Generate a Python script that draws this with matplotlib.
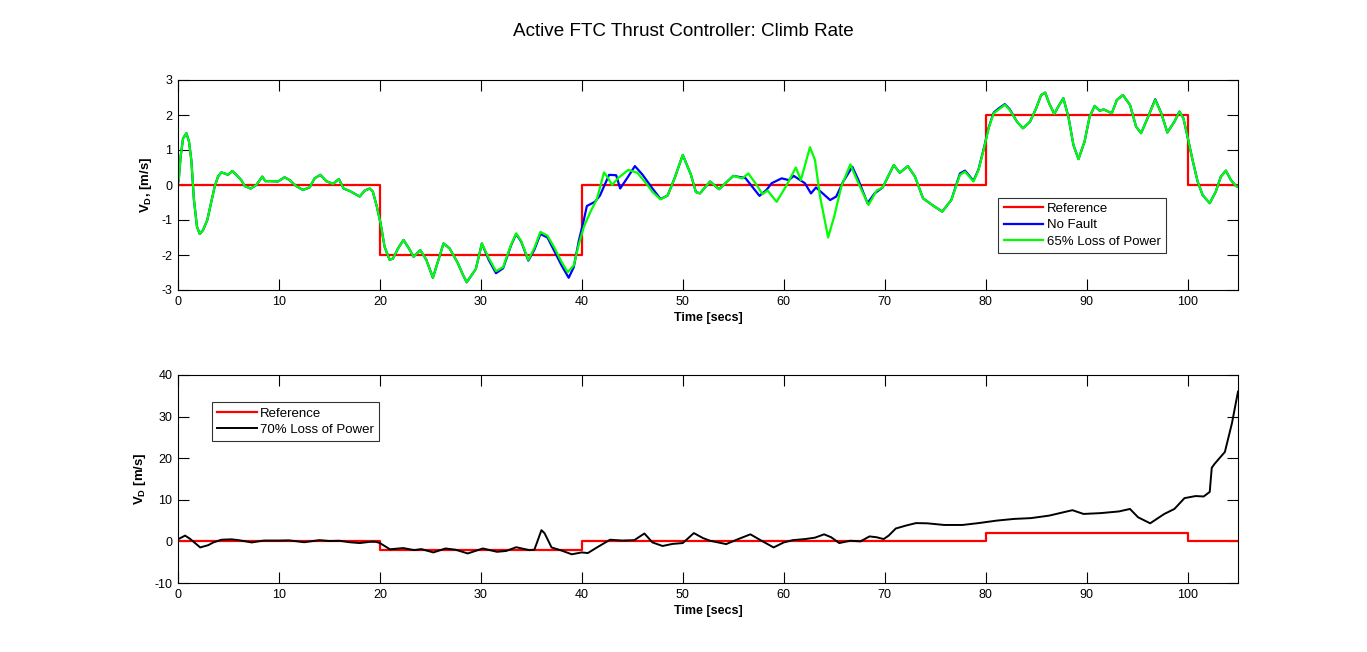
import matplotlib
matplotlib.use("Agg")
import matplotlib.pyplot as plt

plt.rcParams['font.family'] = ['Liberation Sans', 'DejaVu Sans']
plt.rcParams['mathtext.fontset'] = 'custom'
plt.rcParams['mathtext.rm'] = 'Liberation Sans'
plt.rcParams['mathtext.bf'] = 'Liberation Sans:bold'
plt.rcParams['axes.unicode_minus'] = False

# ---------------- data ----------------
ref_times = [0, 20, 40, 80, 100, 105]
ref_vals = [0, -2, 0, 2, 0, 0]

# 65% loss of power (time [s], climb rate [m/s])
green_pts = [
    (0.0, 0.05), (0.07, 0.14), (0.26, 0.81), (0.5, 1.33), (0.83, 1.48), (1.09, 1.24), (1.32, 0.71),
    (1.58, -0.43), (1.88, -1.19), (2.15, -1.4), (2.48, -1.29), (2.9, -1.0), (3.3, -0.48), (3.63, -0.05),
    (3.96, 0.24), (4.29, 0.36), (4.62, 0.33), (4.95, 0.29), (5.38, 0.4), (5.78, 0.29), (6.27, 0.14),
    (6.6, -0.03), (7.2, -0.1), (7.76, 0.0), (8.35, 0.24), (8.65, 0.11), (9.24, 0.11), (9.9, 0.1),
    (10.56, 0.22), (11.06, 0.14), (11.7, -0.03), (12.38, -0.14), (13.04, -0.07), (13.53, 0.19),
    (14.1, 0.29), (14.69, 0.11), (15.35, 0.03), (15.94, 0.17), (16.4, -0.1), (17.0, -0.17), (18.0, -0.33),
    (18.5, -0.16), (19.0, -0.1), (19.3, -0.19), (19.7, -0.62), (20.07, -1.1), (20.46, -1.76),
    (20.96, -2.14), (21.3, -2.1), (21.8, -1.81), (22.34, -1.57), (22.87, -1.81), (23.33, -2.05),
    (24.0, -1.86), (24.6, -2.14), (25.25, -2.65), (25.74, -2.19), (26.3, -1.67), (26.9, -1.81),
    (27.7, -2.22), (28.2, -2.55), (28.6, -2.78), (29.5, -2.4), (30.1, -1.67), (30.8, -2.1), (31.5, -2.46),
    (32.2, -2.35), (33.0, -1.7), (33.5, -1.38), (34.0, -1.6), (34.7, -2.14), (35.3, -1.8), (35.9, -1.34),
    (36.6, -1.45), (37.3, -1.8), (38.0, -2.2), (38.6, -2.49), (39.2, -2.3), (39.7, -1.7), (40.2, -1.2),
    (40.8, -0.8), (41.5, -0.4), (42.2, 0.36), (42.6, 0.2), (43.0, 0.0), (43.6, 0.2), (44.6, 0.43),
    (45.5, 0.35), (46.5, 0.0), (47.0, -0.2), (47.8, -0.41), (48.5, -0.3), (49.2, 0.2), (50.0, 0.86),
    (50.8, 0.3), (51.3, -0.2), (51.7, -0.24), (52.7, 0.1), (53.6, -0.12), (55.0, 0.26), (55.9, 0.19),
    (56.5, 0.33), (57.2, 0.05), (57.9, -0.26), (58.4, -0.16), (59.3, -0.48), (60.3, 0.0), (61.2, 0.5),
    (61.7, 0.14), (62.6, 1.08), (63.1, 0.71), (63.6, -0.33), (64.4, -1.5), (65.0, -0.9), (65.7, -0.05),
    (66.6, 0.59), (67.4, 0.05), (68.4, -0.57), (69.2, -0.16), (69.8, -0.07), (70.9, 0.57), (71.5, 0.35),
    (72.3, 0.54), (73.0, 0.24), (73.8, -0.38), (74.7, -0.57), (75.7, -0.76), (76.6, -0.43),
    (77.46, 0.29), (77.96, 0.38), (78.8, 0.10), (79.3, 0.43), (79.8, 1.0), (80.3, 1.62), (80.8, 2.05),
    (81.3, 2.16), (81.9, 2.29), (82.4, 2.14), (83.1, 1.81), (83.7, 1.62), (84.4, 1.81), (85.0, 2.19),
    (85.5, 2.57), (85.9, 2.64), (86.3, 2.33), (86.8, 2.03), (87.2, 2.24), (87.7, 2.48), (88.2, 1.95),
    (88.7, 1.14), (89.2, 0.74), (89.8, 1.24), (90.3, 1.95), (90.8, 2.26), (91.3, 2.12), (91.7, 2.16),
    (92.5, 2.05), (93.0, 2.43), (93.6, 2.57), (94.3, 2.29), (94.9, 1.67), (95.4, 1.48), (96.1, 1.95),
    (96.8, 2.43), (97.4, 2.05), (98.0, 1.5), (98.7, 1.81), (99.2, 2.1), (99.6, 1.9), (100.0, 1.38),
    (100.5, 0.71), (101.0, 0.1), (101.5, -0.29), (102.2, -0.52), (102.8, -0.19), (103.3, 0.24),
    (103.8, 0.41), (104.3, 0.14), (104.8, -0.03), (105.0, -0.05),
]

# no fault (time [s], climb rate [m/s])
blue_pts = [
    (0.0, 0.05), (0.07, 0.14), (0.26, 0.81), (0.5, 1.33), (0.83, 1.48), (1.09, 1.24), (1.32, 0.71),
    (1.58, -0.43), (1.88, -1.19), (2.15, -1.4), (2.48, -1.29), (2.9, -1.0), (3.3, -0.48), (3.63, -0.05),
    (3.96, 0.24), (4.29, 0.36), (4.62, 0.33), (4.95, 0.29), (5.38, 0.4), (5.78, 0.29), (6.27, 0.14),
    (6.6, -0.03), (7.2, -0.1), (7.76, 0.0), (8.35, 0.24), (8.65, 0.11), (9.24, 0.11), (9.9, 0.1),
    (10.56, 0.22), (11.06, 0.14), (11.7, -0.03), (12.38, -0.14), (13.04, -0.07), (13.53, 0.19),
    (14.1, 0.29), (14.69, 0.11), (15.35, 0.03), (15.94, 0.17), (16.4, -0.1), (17.0, -0.17), (18.0, -0.33),
    (18.5, -0.16), (19.0, -0.1), (19.3, -0.19), (19.7, -0.62), (20.07, -1.1), (20.46, -1.76),
    (20.96, -2.14), (21.3, -2.1), (21.8, -1.81), (22.34, -1.57), (22.87, -1.81), (23.33, -2.05),
    (24.0, -1.86), (24.6, -2.14), (25.25, -2.65), (25.74, -2.19), (26.3, -1.67), (26.9, -1.81),
    (27.7, -2.22), (28.2, -2.55), (28.6, -2.78), (29.5, -2.4), (30.1, -1.67), (30.8, -2.15), (31.5, -2.52),
    (32.2, -2.38), (33.0, -1.72), (33.5, -1.4), (34.0, -1.62), (34.7, -2.16), (35.3, -1.85), (35.9, -1.4),
    (36.6, -1.5), (37.3, -1.9), (38.0, -2.3), (38.7, -2.65), (39.2, -2.35), (39.7, -1.6), (40.2, -1.0),
    (40.5, -0.6), (41.3, -0.48), (41.8, -0.3), (42.7, 0.29), (43.4, 0.28), (43.8, -0.1), (44.5, 0.2),
    (45.26, 0.54), (46.0, 0.3), (47.0, -0.1), (47.8, -0.4), (48.5, -0.3), (49.2, 0.2), (50.0, 0.86),
    (50.8, 0.3), (51.3, -0.2), (51.7, -0.24), (52.7, 0.1), (53.6, -0.12), (55.0, 0.26), (56.2, 0.2),
    (57.6, -0.31), (58.3, -0.14), (58.8, 0.05), (59.8, 0.19), (60.5, 0.14), (61.0, 0.26), (62.1, 0.05),
    (62.7, -0.24), (63.2, -0.07), (64.6, -0.43), (65.2, -0.33), (65.9, 0.1), (66.8, 0.52), (67.4, 0.14),
    (68.3, -0.52), (69.0, -0.24), (69.8, -0.07), (70.9, 0.57), (71.5, 0.35),
    (72.3, 0.54), (73.0, 0.24), (73.8, -0.38), (74.7, -0.57), (75.7, -0.76), (76.6, -0.43),
    (77.46, 0.33), (77.96, 0.41), (78.8, 0.12), (79.3, 0.45), (79.8, 1.02), (80.3, 1.64), (80.8, 2.07),
    (81.3, 2.19), (81.9, 2.31), (82.4, 2.16), (83.1, 1.81), (83.7, 1.62), (84.4, 1.81), (85.0, 2.19),
    (85.5, 2.57), (85.9, 2.64), (86.3, 2.33), (86.8, 2.03), (87.2, 2.24), (87.7, 2.48), (88.2, 1.95),
    (88.7, 1.14), (89.2, 0.74), (89.8, 1.24), (90.3, 1.95), (90.8, 2.26), (91.3, 2.12), (91.7, 2.16),
    (92.5, 2.05), (93.0, 2.43), (93.6, 2.57), (94.3, 2.29), (94.9, 1.67), (95.4, 1.48), (96.1, 1.95),
    (96.8, 2.45), (97.4, 2.05), (98.0, 1.5), (98.7, 1.81), (99.2, 2.1), (99.6, 1.9), (100.0, 1.38),
    (100.5, 0.71), (101.0, 0.1), (101.5, -0.29), (102.2, -0.52), (102.8, -0.19), (103.3, 0.24),
    (103.8, 0.41), (104.3, 0.14), (104.8, -0.03), (105.0, -0.05),
]

# 70% loss of power (time [s], climb rate [m/s])
black_pts = [
    (0, 0.5), (0.7, 1.4), (1.2, 0.6), (2.2, -1.45), (3.0, -0.9), (3.5, -0.25), (4.3, 0.4), (5.3, 0.5),
    (6.0, 0.3), (7.3, -0.25), (8.5, 0.2), (10.0, 0.2), (11.0, 0.25), (12.5, -0.2), (14.0, 0.3),
    (15.0, 0.1), (16.0, 0.15), (17.0, -0.2), (18.0, -0.4), (19.0, -0.1), (19.6, -0.1), (20.0, -0.4),
    (21.0, -1.9), (22.3, -1.6), (23.4, -2.1), (24.1, -1.85), (25.3, -2.65), (26.5, -1.7), (27.5, -2.0),
    (28.7, -2.9), (30.2, -1.7), (31.6, -2.5), (32.5, -2.3), (33.5, -1.4), (34.8, -2.1), (35.3, -2.0),
    (35.6, 0.0), (36.0, 2.7), (36.3, 2.0), (36.6, 0.55), (37.0, -1.45), (38.0, -2.2), (39.0, -3.1),
    (40.0, -2.65), (40.6, -2.8), (41.5, -1.45), (42.8, 0.4), (44.0, 0.2), (45.2, 0.3), (46.2, 1.9),
    (47.0, -0.25), (48.0, -1.1), (49.0, -0.6), (50.0, -0.4), (51.1, 2.0), (52.0, 0.8), (52.7, 0.16),
    (54.3, -0.65), (55.5, 0.56), (56.7, 1.7), (57.8, 0.16), (59.0, -1.45), (60.0, -0.25), (60.9, 0.3),
    (62.1, 0.56), (63.1, 0.9), (64.0, 1.7), (64.7, 1.0), (65.5, -0.4), (66.6, 0.16), (67.6, 0.0),
    (68.5, 1.2), (69.2, 1.0), (69.9, 0.56), (70.4, 1.4), (71.1, 3.1), (72.1, 3.8), (73.1, 4.4),
    (74.2, 4.35), (75.9, 3.95), (77.7, 3.95), (79.3, 4.4), (81.1, 5.0), (82.8, 5.4), (84.5, 5.6),
    (86.3, 6.2), (87.7, 7.0), (88.6, 7.5), (89.7, 6.6), (91.4, 6.8), (93.2, 7.2), (94.3, 7.8),
    (95.1, 5.8), (96.3, 4.35), (97.7, 6.6), (98.7, 7.8), (99.7, 10.4), (100.8, 10.9), (101.6, 10.8),
    (102.2, 11.9), (102.4, 17.7), (102.7, 18.7), (103.7, 21.5), (104.4, 28.4), (105.0, 36.0),
]

top_yticks = [-3, -2, -1, 0, 1, 2, 3]
bot_yticks = [-10, 0, 10, 20, 30, 40]
xticks = [0, 10, 20, 30, 40, 50, 60, 70, 80, 90, 100]

green_t, green_v = zip(*green_pts)
blue_t, blue_v = zip(*blue_pts)
black_t, black_v = zip(*black_pts)

# ---------------- figure ----------------
W, H = 1367, 652
fig = plt.figure(figsize=(W / 100, H / 100), dpi=100)
fig.patch.set_facecolor('white')

ax1 = fig.add_axes([178 / W, 1 - 290 / H, 1060 / W, 210 / H])
ax2 = fig.add_axes([178 / W, 1 - 583 / H, 1060 / W, 208 / H])

lw = 1.6
ax1.step(ref_times, ref_vals, where='post', color='#ff0000', lw=lw, label='Reference')
ax1.plot(blue_t, blue_v, color='#0000ff', lw=lw, label='No Fault')
ax1.plot(green_t, green_v, color='#00ff00', lw=lw, label='65% Loss of Power')

ax2.step(ref_times, ref_vals, where='post', color='#ff0000', lw=lw, label='Reference')
ax2.plot(black_t, black_v, color='black', lw=1.4, label='70% Loss of Power')

for ax, yt, yl in ((ax1, top_yticks, (-3, 3)), (ax2, bot_yticks, (-10, 40))):
    ax.set_xlim(0, 105)
    ax.set_ylim(*yl)
    ax.set_xticks(xticks)
    ax.set_yticks(yt)
    ax.tick_params(direction='in', length=8, width=0.8, top=True, right=True,
                   labelsize=9, pad=4)
    for s in ax.spines.values():
        s.set_linewidth(0.8)
    ax.set_xlabel('Time [secs]', fontsize=9, fontweight='bold', labelpad=3)

ax1.set_ylabel(r'$\mathbf{V_D}$, [m/s]', fontsize=9.5, fontweight='bold', labelpad=5)
ax2.set_ylabel(r'$\mathbf{V_D}$ [m/s]', fontsize=9.5, fontweight='bold', labelpad=5)

leg_kw = dict(loc='upper left', fontsize=9.5, frameon=True, fancybox=False, edgecolor='black',
              handlelength=3.0, borderpad=0.4, labelspacing=0.3, handletextpad=0.25,
              borderaxespad=0)
leg1 = ax1.legend(bbox_to_anchor=(0.774, 0.44), **leg_kw)
leg1.get_frame().set_linewidth(0.8)
leg2 = ax2.legend(bbox_to_anchor=(0.032, 0.87), **leg_kw)
leg2.get_frame().set_linewidth(0.8)

fig.text(683 / W, 1 - 32 / H, 'Active FTC Thrust Controller: Climb Rate', ha='center', va='center',
         fontsize=13.6)

fig.savefig('out.png', dpi=100, facecolor='white')
